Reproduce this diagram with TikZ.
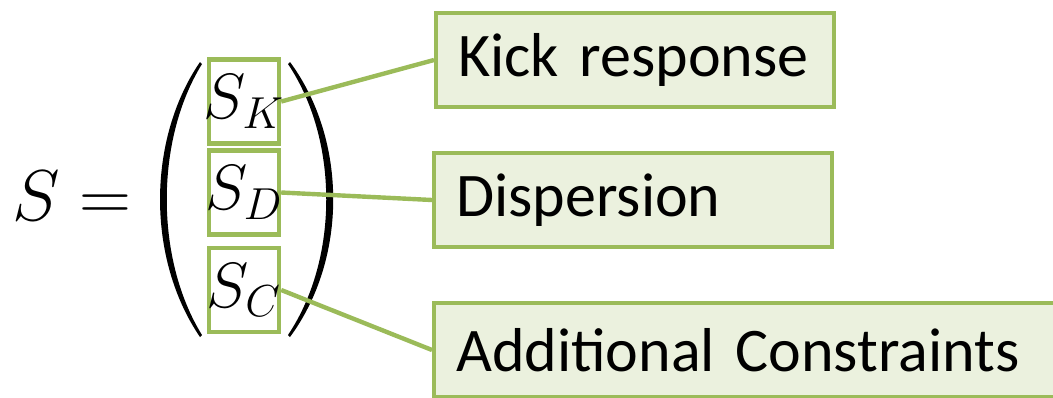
\RequirePackage{fix-cm}
\documentclass[tikz,border=0pt]{standalone}
\usepackage{fontspec}
\setmainfont{Carlito}
\usetikzlibrary{positioning}
\definecolor{olivegreen}{HTML}{9BBB59}
\definecolor{olivefill}{HTML}{EBF1DE}
\tikzset{
  entry/.style={draw=olivegreen, line width=2.2pt, inner sep=0pt,
    minimum width=35pt, minimum height=42pt,
    font=\fontsize{32}{36}\selectfont},
  tagbox/.style={draw=olivegreen, fill=olivefill, line width=2.2pt,
    inner xsep=11pt, inner ysep=0pt, minimum height=47pt, align=left,
    anchor=west, font=\fontsize{31}{36}\selectfont},
  link/.style={draw=olivegreen, line width=2.2pt}
}

\begin{document}
\begin{tikzpicture}[x=0.5pt,y=-0.5pt]
   \useasboundingbox (0,0) rectangle (1053,397);
   % left hand side
   \node[font=\fontsize{36}{40}\selectfont] (lhs) at (72,196) {$S =$};
   % vector entries
   \node[entry] (sk) at (244,101.5) {\makebox[0pt]{$S_K$}};
   \node[entry] (sd) at (244,192.5) {\makebox[0pt]{$S_D$}};
   \node[entry] (sc) at (244,290) {\makebox[0pt]{$S_C$}};
   % big parentheses
   \fill (200,62) .. controls (146.7,140) and (146.7,259) .. (200,337)
      -- (202,335) .. controls (155,259) and (155,140) .. (202,64) -- cycle;
   \fill (290,62) .. controls (347.6,140) and (347.6,259) .. (290,337)
      -- (288,335) .. controls (339,259) and (339,140) .. (288,64) -- cycle;
   % meaning of each part
   \node[tagbox, text width=177pt] (kick) at (434,60) {Kick response};
   \node[tagbox, text width=177pt] (disp) at (432,200) {Dispersion};
   \node[tagbox, text width=295pt] (addc) at (432,350) {Additional Constraints};

   \draw[link] (sk.east) -- (kick.west);
   \draw[link] (sd.east) -- (disp.west);
   \draw[link] (sc.east) -- (addc.west);
\end{tikzpicture}
\end{document}
